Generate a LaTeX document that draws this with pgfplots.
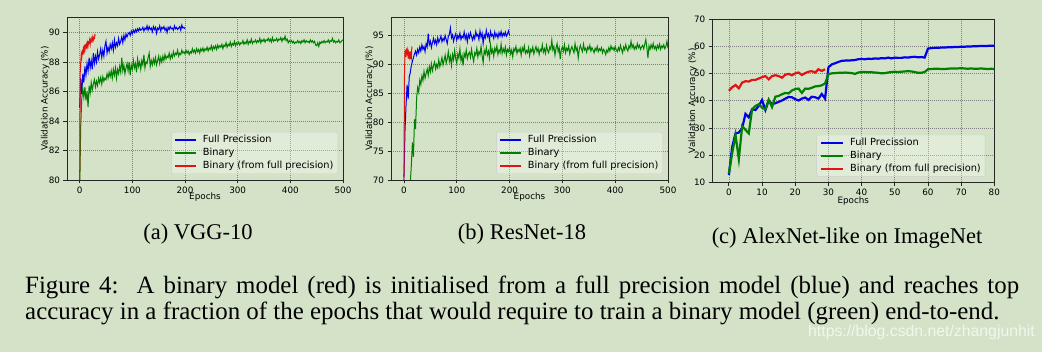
\documentclass[border=0pt]{standalone}
\usepackage{fontspec}
\setmainfont{Liberation Serif}
\newfontfamily\dv{DejaVu Sans}
\newfontfamily\lsans{Liberation Sans}
\usepackage{pgfplots}
\pgfplotsset{compat=1.18}
\definecolor{bg}{RGB}{212,227,200}
\definecolor{mb}{RGB}{0,0,235}
\definecolor{mg}{RGB}{0,128,0}
\definecolor{mr}{RGB}{225,20,20}
\pgfplotsset{
  mplaxis/.style={
    scale only axis,
    axis line style={black!85, line width=0.8pt},
    tick align=outside, tick pos=left,
    major tick length=3.5pt,
    every tick/.style={black!85, line width=0.8pt},
    grid=major,
    major grid style={black!50, line width=0.7pt, dash pattern=on 1pt off 1pt},
    tick label style={font=\dv\fontsize{8.8}{10}\selectfont},
    label style={font=\dv\fontsize{8.8}{10}\selectfont},
    /pgf/number format/assume math mode=true,
    xlabel={Epochs},
    ylabel={Validation Accuracy (\%)},
    legend cell align=left,
    legend style={at={(1,0)}, anchor=south east, xshift=-5pt, yshift=6pt,
      font=\dv\fontsize{9.8}{11}\selectfont, draw=black!20, fill=white,
      fill opacity=0.3, text opacity=1, rounded corners=2pt,
      inner xsep=3pt, inner ysep=2pt, row sep=1.5pt, column sep=5pt,
      nodes={inner sep=1.3pt}},
  }
}
\begin{document}
\begin{tikzpicture}[x=1pt,y=1pt]
\path[use as bounding box, fill=bg] (0,0) rectangle (1042,352);

% ---------------- (a) VGG-10
\begin{axis}[mplaxis, at={(67pt,172pt)}, anchor=south west, width=276pt, height=163pt,
  xmin=-24, xmax=500, ymin=80, ymax=91.05,
  xtick={0,100,...,500}, ytick={80,82,...,90},
  ylabel style={at={(axis description cs:-0.0786,0.5)}, anchor=center},
  xlabel style={at={(axis description cs:0.5,0)}, anchor=center, yshift=-17.3pt},
  legend image code/.code={\draw[#1, line width=1.2pt] (0pt,0pt) -- (21pt,0pt);}]
\addplot[mb, line width=1.0pt] coordinates {
(0,84.9)(2,86.9)(4,85.8)(6,87.2)(8,86.6)(10,87.7)(12,87.1)(14,87.9)(16,87.4)(18,88.3)
(20,87.6)(22,88.1)(24,87.5)(26,88.6)(28,87.9)(30,88.4)(32,88.0)(34,88.7)(36,88.2)(38,88.5)
(40,88.9)(42,88.3)(44,88.8)(46,88.4)(48,89.1)(50,89.4)(52,88.6)(54,89.0)(56,88.7)(58,89.2)
(60,88.9)(62,89.3)(64,88.8)(66,89.5)(68,89.0)(70,89.3)(72,89.1)(74,89.6)(76,89.2)(78,89.4)
(80,89.7)(82,89.3)(84,89.8)(86,89.5)(88,89.9)(90,89.7)(92,89.9)(94,90.0)(96,89.8)(98,90.1)
(100,89.9)(102,90.15)(104,90.0)(106,90.2)(108,90.05)(110,90.25)(112,90.1)(114,90.3)(116,90.15)(118,90.2)
(120,90.35)(122,90.1)(124,90.3)(126,90.2)(128,90.45)(130,90.15)(132,90.4)(134,90.2)(136,90.3)(138,90.05)
(140,90.4)(142,90.2)(144,90.35)(146,89.95)(148,90.3)(150,90.2)(152,90.45)(154,90.1)(156,90.35)(158,90.25)
(160,90.4)(162,90.15)(164,90.3)(166,90.0)(168,90.35)(170,90.2)(172,90.4)(174,90.25)(176,90.3)(178,90.15)
(180,90.45)(182,90.25)(184,90.35)(186,90.2)(188,90.3)(190,90.4)(192,90.15)(194,90.5)(196,90.3)(198,90.35)
(200,90.25)};
\addlegendentry{Full Precission}
\addplot[mg, line width=1.0pt] coordinates {
(0,79.0)(2,83.6)(4,85.5)(6,86.2)(8,85.6)(10,86.3)(12,85.4)(14,86.0)(16,84.95)(18,86.4)
(20,85.9)(22,86.6)(24,86.1)(26,86.5)(28,86.8)(30,86.3)(32,86.7)(34,86.4)(36,86.9)(38,86.6)
(40,86.95)(42,86.5)(44,87.0)(46,86.7)(48,86.9)(50,86.8)(52,87.2)(54,86.9)(56,87.3)(58,87.0)
(60,87.4)(62,86.9)(64,87.5)(66,87.1)(68,87.6)(70,86.9)(72,87.5)(74,87.2)(76,87.7)(78,87.3)
(80,88.3)(82,87.4)(84,87.8)(86,87.2)(88,87.6)(90,87.9)(92,87.4)(94,88.0)(96,87.1)(98,87.8)
(100,87.5)(102,88.1)(104,87.6)(106,87.9)(108,87.3)(110,88.2)(112,87.7)(114,88.0)(116,87.5)(118,88.1)
(120,87.8)(122,88.5)(124,87.6)(126,88.0)(128,87.9)(130,88.3)(132,88.6)(134,87.7)(136,88.1)(138,87.8)
(140,88.2)(142,87.9)(144,88.3)(146,87.8)(148,88.1)(150,88.4)(152,87.9)(154,88.3)(156,88.0)(158,88.4)
(160,88.1)(162,88.5)(164,88.2)(166,88.4)(168,88.3)(170,88.6)(172,88.2)(174,88.5)(176,88.3)(178,88.7)
(180,88.4)(182,88.6)(184,88.5)(186,88.8)(188,88.4)(190,88.6)(192,88.5)(194,88.8)(196,88.6)(198,88.7)
(200,88.55)(202,88.8)(204,88.6)(206,88.75)(208,88.5)(210,88.7)(212,88.6)(214,88.9)(216,88.65)(218,88.8)
(220,88.6)(222,88.9)(224,88.7)(226,88.85)(228,88.6)(230,88.9)(232,88.75)(234,88.95)(236,88.7)(238,88.9)
(240,88.8)(242,89.0)(244,88.75)(246,88.95)(248,88.85)(250,89.1)(252,88.8)(254,89.05)(256,88.9)(258,89.1)
(260,88.85)(262,89.15)(264,88.95)(266,89.1)(268,89.0)(270,89.2)(272,88.9)(274,89.15)(276,89.05)(278,89.3)
(280,89.0)(282,89.2)(284,89.1)(286,89.35)(288,89.05)(290,89.25)(292,89.15)(294,89.4)(296,89.1)(298,89.3)
(300,89.2)(302,89.35)(304,89.15)(306,89.3)(308,89.25)(310,89.45)(312,89.2)(314,89.35)(316,89.25)(318,89.5)
(320,89.2)(322,89.4)(324,89.3)(326,89.55)(328,89.25)(330,89.4)(332,89.35)(334,89.5)(336,89.3)(338,89.45)
(340,89.35)(342,89.6)(344,89.3)(346,89.5)(348,89.4)(350,89.55)(352,89.35)(354,89.5)(356,89.45)(358,89.6)
(360,89.4)(362,89.55)(364,89.35)(366,89.65)(368,89.4)(370,89.5)(372,89.45)(374,89.6)(376,89.4)(378,89.55)
(380,89.5)(382,89.65)(384,89.4)(386,89.6)(388,89.5)(390,89.75)(392,89.45)(394,89.55)(396,89.3)(398,89.45)
(400,89.35)(402,89.45)(404,89.3)(406,89.4)(408,89.25)(410,89.35)(412,89.3)(414,89.45)(416,89.3)(418,89.4)
(420,89.25)(422,89.45)(424,89.35)(426,89.5)(428,89.3)(430,89.45)(432,89.35)(434,89.4)(436,89.3)(438,89.5)
(440,89.35)(442,89.45)(444,89.3)(446,89.4)(448,89.15)(450,89.1)(452,89.3)(454,89.05)(456,89.35)(458,89.25)
(460,89.4)(462,89.3)(464,89.45)(466,89.3)(468,89.4)(470,89.35)(472,89.5)(474,89.3)(476,89.45)(478,89.4)
(480,89.6)(482,89.35)(484,89.45)(486,89.3)(488,89.4)(490,89.35)(492,89.5)(494,89.3)(496,89.35)(498,89.45)
(500,89.5)};
\addlegendentry{Binary}
\addplot[mr, line width=1.0pt] coordinates {
(0,79.0)(1,87.2)(2,87.9)(3,88.5)(4,88.3)(5,88.7)(6,88.6)(7,88.9)(8,88.7)(9,89.0)
(10,88.8)(11,89.1)(12,89.0)(13,89.2)(14,89.0)(15,89.3)(16,89.1)(17,89.35)(18,89.3)(19,89.5)
(20,89.2)(21,89.5)(22,89.4)(23,89.6)(24,89.45)(25,89.7)(26,89.5)(27,89.65)(28,89.6)(29,89.85)
(30,89.8)};
\addlegendentry{Binary (from full precision)}
\end{axis}

% ---------------- (b) ResNet-18
\begin{axis}[mplaxis, at={(391pt,172pt)}, anchor=south west, width=277pt, height=163pt,
  xmin=-24.5, xmax=500, ymin=70, ymax=98.2,
  xtick={0,100,...,500}, ytick={70,75,...,95},
  ylabel style={at={(axis description cs:-0.0773,0.5)}, anchor=center},
  xlabel style={at={(axis description cs:0.5,0)}, anchor=center, yshift=-17.3pt},
  legend image code/.code={\draw[#1, line width=1.2pt] (0pt,0pt) -- (21pt,0pt);}]
\addplot[mb, line width=1.0pt] coordinates {
(0,70.5)(2,78.5)(4,83.0)(6,86.5)(8,84.0)(10,87.8)(12,88.6)(14,89.8)(16,90.5)(18,91.2)
(20,91.8)(22,92.3)(24,91.6)(26,92.6)(28,92.0)(30,93.0)(32,92.3)(34,93.4)(36,92.6)(38,93.1)
(40,92.2)(42,93.6)(44,93.0)(46,95.3)(48,93.4)(50,94.0)(52,92.9)(54,93.8)(56,94.5)(58,93.6)
(60,94.2)(62,93.4)(64,94.6)(66,93.8)(68,94.3)(70,94.9)(72,93.9)(74,94.5)(76,94.1)(78,95.0)
(80,94.3)(82,93.6)(84,94.8)(86,95.2)(88,96.3)(90,94.6)(92,95.1)(94,94.0)(96,94.8)(98,95.3)
(100,94.2)(102,95.0)(104,94.5)(106,95.4)(108,94.3)(110,94.9)(112,94.6)(114,95.6)(116,94.4)(118,95.1)
(120,93.9)(122,95.2)(124,94.6)(126,95.5)(128,94.8)(130,94.2)(132,95.0)(134,94.4)(136,95.7)(138,94.9)
(140,95.2)(142,94.3)(144,95.8)(146,94.7)(148,95.4)(150,93.6)(152,95.1)(154,94.6)(156,95.9)(158,94.8)
(160,95.3)(162,94.2)(164,95.7)(166,94.9)(168,95.2)(170,94.5)(172,95.6)(174,94.8)(176,95.3)(178,94.6)
(180,95.5)(182,94.9)(184,95.7)(186,94.8)(188,95.4)(190,95.0)(192,95.6)(194,94.9)(196,95.3)(198,95.8)
(200,95.0)};
\addlegendentry{Full Precission}
\addplot[mg, line width=1.0pt] coordinates {
(12,69.5)(14,72.5)(16,76.5)(18,74.0)
(20,80.5)(22,78.8)(24,84.2)(26,86.0)(28,85.2)(30,87.3)(32,86.5)(34,88.0)(36,87.2)(38,88.8)
(40,87.6)(42,88.4)(44,89.2)(46,88.1)(48,89.6)(50,88.7)(52,90.1)(54,88.9)(56,89.8)(58,90.4)
(60,89.2)(62,90.0)(64,89.4)(66,90.8)(68,89.6)(70,90.3)(72,91.2)(74,89.9)(76,90.7)(78,91.6)
(80,90.2)(82,91.0)(84,92.2)(86,90.5)(88,91.4)(90,89.8)(92,91.7)(94,90.8)(96,92.4)(98,91.0)
(100,90.2)(102,91.8)(104,91.1)(106,92.7)(108,90.6)(110,91.5)(112,89.8)(114,91.9)(116,91.3)(118,92.5)
(120,91.0)(122,91.8)(124,92.1)(126,91.2)(128,92.6)(130,91.4)(132,90.5)(134,92.0)(136,91.6)(138,92.8)
(140,91.3)(142,92.2)(144,91.7)(146,93.1)(148,91.5)(150,90.3)(152,92.4)(154,91.8)(156,92.9)(158,91.6)
(160,92.3)(162,91.1)(164,93.4)(166,92.0)(168,92.6)(170,91.4)(172,92.8)(174,92.2)(176,93.2)(178,91.7)
(180,92.5)(182,92.0)(184,93.5)(186,91.9)(188,92.7)(190,92.1)(192,93.0)(194,91.6)(196,92.6)(198,92.2)
(200,92.9)(202,91.8)(204,92.5)(206,91.3)(208,92.7)(210,92.3)(212,93.1)(214,91.9)(216,92.6)(218,92.2)
(220,92.8)(222,91.6)(224,92.9)(226,92.3)(228,93.2)(230,91.9)(232,92.4)(234,92.0)(236,92.9)(238,91.5)
(240,92.6)(242,92.2)(244,93.0)(246,91.8)(248,92.5)(250,93.1)(252,92.2)(254,92.8)(256,91.7)(258,92.6)
(260,92.3)(262,93.4)(264,92.1)(266,92.7)(268,91.9)(270,93.3)(272,92.4)(274,92.0)(276,93.0)(278,92.6)
(280,94.2)(282,92.5)(284,93.1)(286,91.6)(288,92.8)(290,93.6)(292,92.2)(294,92.9)(296,90.9)(298,92.6)
(300,93.0)(302,92.3)(304,93.4)(306,92.0)(308,92.8)(310,92.4)(312,93.2)(314,91.8)(316,92.6)(318,93.1)
(320,92.5)(322,92.0)(324,93.6)(326,92.4)(328,92.9)(330,91.1)(332,92.6)(334,93.3)(336,92.7)(338,92.2)
(340,93.5)(342,92.5)(344,92.8)(346,92.1)(348,93.0)(350,92.6)(352,93.3)(354,92.3)(356,92.9)(358,92.5)
(360,92.0)(362,92.8)(364,92.4)(366,93.1)(368,92.2)(370,92.7)(372,92.4)(374,92.9)(376,92.0)(378,92.6)
(380,92.3)(382,91.7)(384,92.5)(386,92.1)(388,92.9)(390,92.3)(392,93.2)(394,92.6)(396,92.9)(398,92.4)
(400,93.1)(402,92.5)(404,92.2)(406,92.9)(408,92.4)(410,93.3)(412,92.6)(414,92.0)(416,93.0)(418,92.5)
(420,93.4)(422,92.7)(424,92.3)(426,93.2)(428,92.8)(430,94.0)(432,92.9)(434,93.4)(436,92.6)(438,93.1)
(440,92.7)(442,93.6)(444,92.9)(446,93.3)(448,92.6)(450,93.0)(452,93.3)(454,92.7)(456,93.5)(458,94.3)
(460,92.9)(462,91.1)(464,93.2)(466,92.6)(468,93.4)(470,92.8)(472,93.6)(474,92.7)(476,93.1)(478,92.5)
(480,93.3)(482,92.8)(484,93.5)(486,92.6)(488,93.2)(490,92.9)(492,93.4)(494,92.7)(496,93.1)(498,94.0)
(500,92.8)};
\addlegendentry{Binary}
\addplot[mr, line width=1.0pt] coordinates {
(0,69.0)(1,88.0)(2,92.3)(3,92.4)(4,91.3)(5,92.4)(6,92.0)(7,92.5)(8,91.0)(9,91.9)
(10,91.3)(11,92.2)(12,90.9)(13,91.7)(14,91.2)(15,93.1)};
\addlegendentry{Binary (from full precision)}
\end{axis}

% ---------------- (c) AlexNet-like
\begin{axis}[mplaxis, at={(712.3pt,169.7pt)}, anchor=south west, width=282pt, height=163pt,
  xmin=-5, xmax=80, ymin=10, ymax=70,
  xtick={0,10,...,80}, ytick={10,20,...,70},
  ylabel style={at={(axis description cs:-0.0695,0.5)}, anchor=center},
  xlabel style={at={(axis description cs:0.5,0)}, anchor=center, yshift=-18.7pt},
  legend style={xshift=-4pt, yshift=-0.5pt},
  legend image code/.code={\draw[#1] (0pt,0pt) -- (22pt,0pt);}]
\addplot[mb, line width=2.2pt] coordinates {
(0,12.7)(1,23.1)(2,28.0)(3,28.3)(4,29.9)(5,35.2)(6,33.9)(7,36.9)(8,36.6)(9,38.1)
(10,40.3)(11,36.6)(12,40.1)(13,38.8)(14,39.1)(15,39.6)(16,40.1)(17,40.8)(18,41.4)(19,41.3)
(20,40.6)(21,40.1)(22,40.8)(23,41.2)(24,40.3)(25,41.5)(26,41.3)(27,40.8)(28,42.5)(29,40.8)
(30,52.3)(31,53.4)(32,53.8)(33,54.3)(34,54.7)(35,54.8)(36,54.8)(37,54.9)(38,55.0)(39,55.3)
(40,55.4)(41,55.3)(42,55.5)(43,55.4)(44,55.6)(45,55.5)(46,55.7)(47,55.6)(48,55.9)(49,55.6)
(50,55.9)(51,55.8)(52,55.8)(53,56.0)(54,55.9)(55,56.1)(56,56.2)(57,56.0)(58,56.1)(59,55.9)
(60,59.2)(61,59.4)(62,59.5)(63,59.5)(64,59.6)(65,59.6)(66,59.7)(67,59.7)(68,59.8)(69,59.8)
(70,59.9)(71,59.9)(72,60.0)(73,60.0)(74,60.1)(75,60.1)(76,60.2)(77,60.2)(78,60.2)(79,60.3)
(80,60.3)};
\addlegendentry{Full Precission}
\addplot[mg, line width=2.2pt] coordinates {
(0,13.3)(1,20.7)(2,27.4)(3,18.5)(4,30.7)(5,29.3)(6,28.0)(7,36.9)(8,38.1)(9,38.7)
(10,37.5)(11,36.9)(12,40.4)(13,37.7)(14,41.5)(15,41.8)(16,42.4)(17,42.9)(18,42.7)(19,43.8)
(20,44.3)(21,44.5)(22,42.9)(23,44.5)(24,44.4)(25,44.8)(26,45.3)(27,45.4)(28,45.7)(29,46.4)
(30,49.8)(31,50.1)(32,50.2)(33,50.3)(34,50.3)(35,50.4)(36,50.3)(37,50.2)(38,49.9)(39,50.4)
(40,50.6)(41,50.6)(42,50.5)(43,50.5)(44,50.4)(45,50.3)(46,50.1)(47,50.2)(48,50.4)(49,50.6)
(50,50.7)(51,50.6)(52,50.7)(53,50.8)(54,50.9)(55,50.8)(56,50.6)(57,50.3)(58,50.3)(59,50.6)
(60,51.6)(61,51.7)(62,51.8)(63,51.8)(64,51.7)(65,51.7)(66,51.8)(67,51.9)(68,51.9)(69,51.9)
(70,52.0)(71,51.9)(72,51.8)(73,51.9)(74,51.8)(75,51.8)(76,51.9)(77,51.8)(78,51.7)(79,51.8)
(80,51.7)};
\addlegendentry{Binary}
\addplot[mr, line width=2.2pt] coordinates {
(0,43.7)(1,45.0)(2,45.8)(3,44.6)(4,46.7)(5,47.2)(6,47.1)(7,47.7)(8,47.7)(9,48.2)
(10,48.7)(11,49.1)(12,47.9)(13,49.1)(14,49.4)(15,49.1)(16,48.5)(17,49.6)(18,49.9)(19,49.4)
(20,50.1)(21,50.4)(22,49.5)(23,50.2)(24,50.7)(25,50.9)(26,50.4)(27,51.6)(28,51.0)(29,51.6)};
\addlegendentry{Binary (from full precision)}
\end{axis}

% ---------------- captions
\node[anchor=base, inner sep=0pt, font=\fontsize{22.5}{26}\selectfont] at (198,112) {(a) VGG-10};
\node[anchor=base, inner sep=0pt, font=\fontsize{22.5}{26}\selectfont] at (522,112) {(b) ResNet-18};
\node[anchor=base, inner sep=0pt, font=\fontsize{22.5}{26}\selectfont] at (847,108) {(c) AlexNet-like on ImageNet};
\node[anchor=base west, inner sep=0pt, font=\fontsize{24.9}{27}\selectfont] at (25,58)
  {\makebox[994pt][s]{Figure 4:\ \ A binary model (red) is initialised from a full precision model (blue) and reaches top}};
\node[anchor=base west, inner sep=0pt, font=\fontsize{24.9}{27}\selectfont] at (25,32)
  {accuracy in a fraction of the epochs that would require to train a binary model (green) end-to-end.};
\node[anchor=base east, inner sep=0pt, font=\lsans\fontsize{15.8}{17}\selectfont, text=white!70!bg] at (1035,15)
  {https://blog.csdn.net/zhangjunhit};
\end{tikzpicture}
\end{document}
